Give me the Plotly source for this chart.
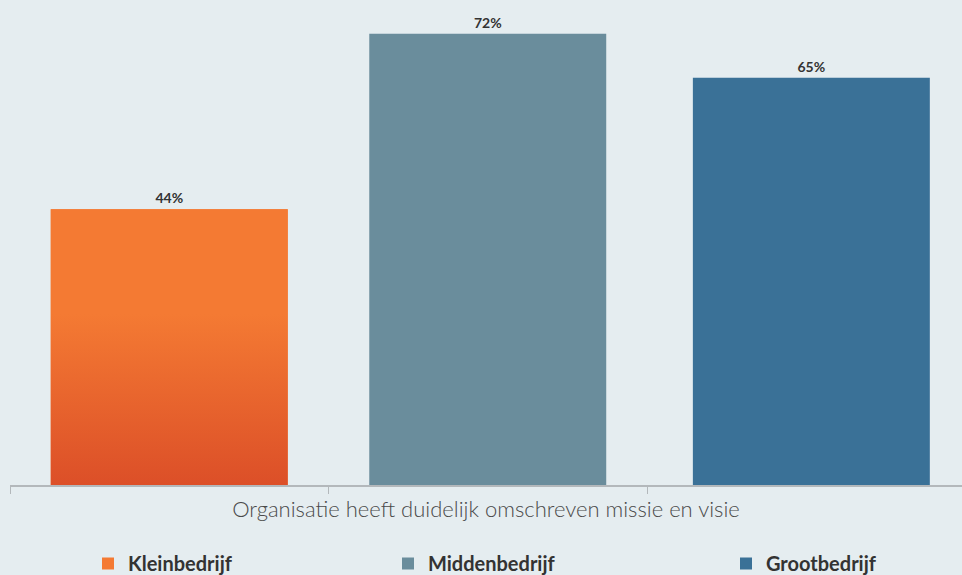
import plotly.graph_objects as go

categories = ["Kleinbedrijf", "Middenbedrijf", "Grootbedrijf"]
values = [44, 72, 65]
colors = ["#f47a33", "#6a8d9c", "#3a7197"]
axis_label = "Organisatie heeft duidelijk omschreven missie en visie"

BAR_W = 0.744
FONT = "Lato"
bar_shift = [0, 0, 0.016]  # small horizontal nudge per bar (style)

fig = go.Figure()

for i, (name, v, c) in enumerate(zip(categories, values, colors)):
    fig.add_trace(go.Bar(
        x=[i], y=[v], name=name, width=BAR_W,
        offset=-BAR_W / 2 + bar_shift[i],
        marker=dict(color=c, line=dict(width=0)),
        text=[f"{v}%"], textposition="outside",
        textfont=dict(family=FONT, size=14, color="#333333", weight="bold"),
        cliponaxis=False,
        legend=["legend", "legend2", "legend3"][i],
    ))

# vertical gradient on the first bar (overlay derived from its data)
x0, v0 = 0, values[0]
fig.add_trace(go.Scatter(
    x=[x0 - BAR_W / 2, x0 + BAR_W / 2, x0 + BAR_W / 2, x0 - BAR_W / 2, x0 - BAR_W / 2],
    y=[0, 0, v0, v0, 0],
    mode="lines", line=dict(width=0), fill="toself",
    fillgradient=dict(type="vertical",
                      colorscale=[[0, "#dc4f28"], [0.62, "#f47a33"], [1, "#f47a33"]]),
    showlegend=False, hoverinfo="skip",
))

leg_common = dict(
    orientation="h", xref="container", yref="container",
    xanchor="left", yanchor="middle", y=0.02,
    font=dict(family=FONT, size=20, color="#333333", weight="bold"),
    bgcolor="rgba(0,0,0,0)", itemwidth=30,
)

fig.update_layout(
    width=962, height=575,
    margin=dict(l=10, r=0, t=0, b=90),
    paper_bgcolor="#e5edf0", plot_bgcolor="#e5edf0",
    barmode="overlay",
    xaxis=dict(
        range=[-0.5, 2.489], tickvals=[-0.5, 0.5, 1.5, 2.5], ticktext=["", "", "", ""],
        ticks="outside", ticklen=7, tickcolor="#b3b8bb", tickwidth=1,
        showline=True, linecolor="#b3b8bb", linewidth=2,
        showgrid=False, zeroline=False,
        title=dict(text=axis_label, standoff=6,
                   font=dict(family=FONT, size=22, color="#4a4a4a", weight=300)),
    ),
    yaxis=dict(range=[0, 77.4], visible=False, fixedrange=True),
    legend=dict(**leg_common, x=(98 - 10) / 962),
    legend2=dict(**leg_common, x=(398 - 10) / 962),
    legend3=dict(**leg_common, x=(736 - 10) / 962),
)

fig.write_html("out.html")
